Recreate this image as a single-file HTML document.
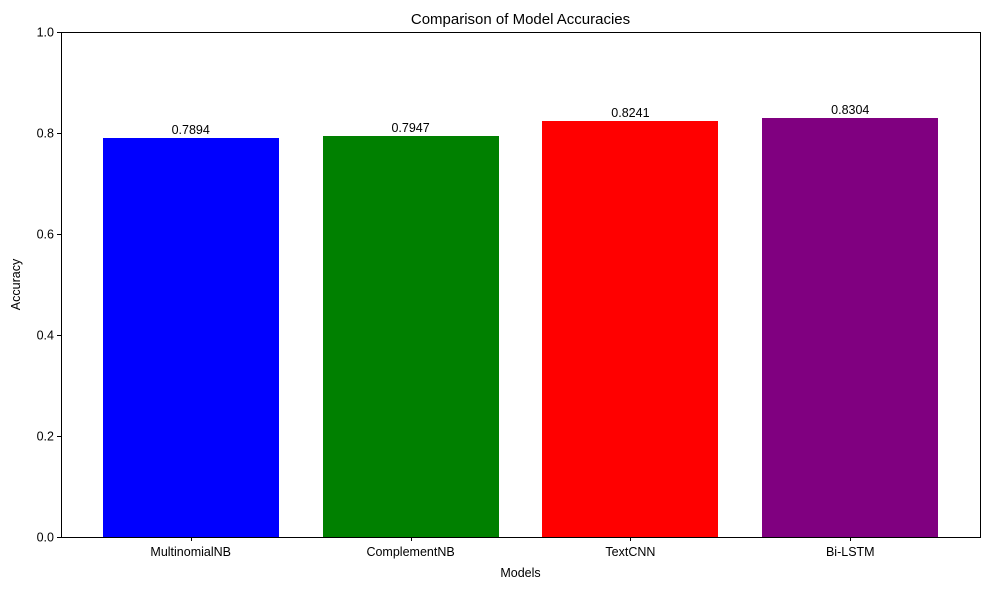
<!DOCTYPE html>
<html><head><meta charset="utf-8"><style>
html,body{margin:0;padding:0;background:#fff;}
svg{display:block;font-family:"Liberation Sans","DejaVu Sans",sans-serif;}
</style></head><body>
<svg id="chart" width="989" height="590" viewBox="0 0 989 590"></svg>
<script>
const categories = ["MultinomialNB","ComplementNB","TextCNN","Bi-LSTM"];
const values = [0.7894, 0.7947, 0.8241, 0.8304];
const colors = ["#0000ff","#008000","#ff0000","#800080"];
const yTicks = [0.0,0.2,0.4,0.6,0.8,1.0];

const L=61,R=980,T=32,B=537;
const xMin=-0.59,xMax=3.59,yMin=0,yMax=1;
const xs=v=>L+(v-xMin)/(xMax-xMin)*(R-L);
const ys=v=>B-(v-yMin)/(yMax-yMin)*(B-T);
const NS="http://www.w3.org/2000/svg";
const svg=document.getElementById("chart");
function mk(tag,attrs,text){const e=document.createElementNS(NS,tag);for(const k in attrs)e.setAttribute(k,attrs[k]);if(text!==undefined)e.textContent=text;svg.appendChild(e);return e;}

categories.forEach((c,i)=>{
  const x0=Math.round(xs(i-0.4)),x1=Math.round(xs(i+0.4)),y=Math.round(ys(values[i]));
  const r=mk("rect",{x:x0,y:y,width:x1-x0,height:B-y,fill:colors[i]});
  
  
  const t=mk("text",{x:xs(i),y:y-4,"text-anchor":"middle","font-size":"12.5",fill:"#000"},values[i].toFixed(4));
  
  
  const tx=Math.round(xs(i))+0.5;
  mk("line",{x1:tx,x2:tx,y1:B,y2:B+4,stroke:"#000","stroke-width":"1"});
  const xl=mk("text",{x:xs(i),y:B+19,"text-anchor":"middle","font-size":"12.5",fill:"#000"},c);
  
  
});
yTicks.forEach(v=>{
  const ty=Math.round(ys(v))+0.5;
  mk("line",{x1:L-4,x2:L,y1:ty,y2:ty,stroke:"#000","stroke-width":"1"});
  const t=mk("text",{x:L-7,y:ys(v)+4.5,"text-anchor":"end","font-size":"12.5",fill:"#000"},v.toFixed(1));
  
  
});
const f=mk("rect",{x:L+0.5,y:T+0.5,width:R-L,height:B-T,fill:"none",stroke:"#000","stroke-width":"1"});


const ti=mk("text",{x:(L+R)/2,y:T-8,"text-anchor":"middle","font-size":"15",fill:"#000"},"Comparison of Model Accuracies");


const xt=mk("text",{x:(L+R)/2,y:577,"text-anchor":"middle","font-size":"12.5",fill:"#000"},"Models");


const yt=mk("text",{x:0,y:0,"text-anchor":"middle","font-size":"12.5",fill:"#000",transform:"translate(20,"+((T+B)/2)+") rotate(-90)"},"Accuracy");


</script>
</body></html>
